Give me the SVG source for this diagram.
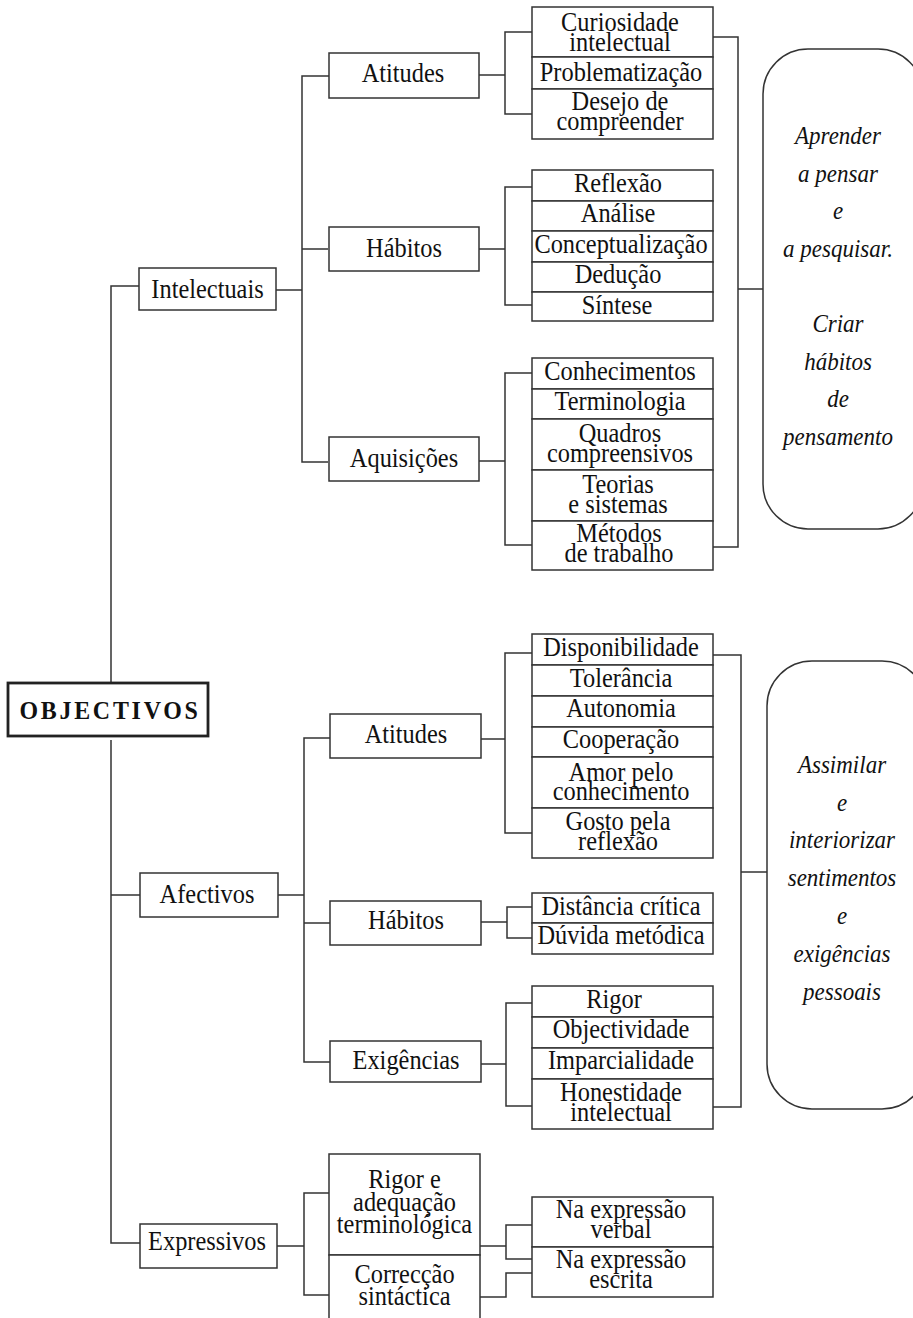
<svg xmlns="http://www.w3.org/2000/svg" width="913" height="1318" viewBox="0 0 913 1318">
<style>
.b{fill:#fff;stroke:#333;stroke-width:1.5}
.c{fill:none;stroke:#333;stroke-width:1.5}
.t{font-family:"Liberation Serif","Times New Roman",serif;font-size:26.5px;fill:#111;text-anchor:middle}
.i{font-style:italic;font-size:25px}
.m{font-weight:bold;font-size:26px;letter-spacing:3px}
</style>
<rect width="913" height="1318" fill="#fff"/>
<g id="connectors" class="c">
<path d="M139,286H111V683M111,740V1243H140M111,895H140"/>
<path d="M276,290H302M329,76H302V462H328M302,249H328"/>
<path d="M479,75H505M532,32H505V114H532"/>
<path d="M479,249H505M532,187H505V305H532"/>
<path d="M479,461H505M532,373H505V545H532"/>
<path d="M713,37H738V547H713M738,289H763"/>
<path d="M278,895H304M330,738H304V1062H330M304,923H330"/>
<path d="M481,739H505M532,653H505V833H532"/>
<path d="M481,922H507M532,907H507V938H532"/>
<path d="M481,1064H506M532,1003H506V1106H532"/>
<path d="M713,655H741V1107H713M741,872H767"/>
<path d="M277,1246H304M329,1193H304V1295H329"/>
<path d="M480,1246H506M532,1225H506V1259H532M480,1297H506V1273H532"/>
</g>
<g id="objectivos"><rect x="8" y="683" width="200" height="53" fill="#fff" stroke="#222" stroke-width="2.8"/><text class="t m" transform="translate(110,719) scale(.92,1)">OBJECTIVOS</text></g>
<g id="intelectuais"><rect class="b" x="139" y="268" width="137" height="42"/><text class="t" transform="translate(207.5,298) scale(.92,1)">Intelectuais</text></g>
<g id="afectivos"><rect class="b" x="140" y="873" width="138" height="44"/><text class="t" transform="translate(207,903) scale(.92,1)">Afectivos</text></g>
<g id="expressivos"><rect class="b" x="140" y="1224" width="137" height="44"/><text class="t" transform="translate(207,1250) scale(.92,1)">Expressivos</text></g>
<g id="int-atitudes"><rect class="b" x="329" y="53" width="150" height="45"/><text class="t" transform="translate(403,82) scale(.92,1)">Atitudes</text></g>
<g id="int-habitos"><rect class="b" x="329" y="227" width="150" height="44"/><text class="t" transform="translate(404,257) scale(.92,1)">Hábitos</text></g>
<g id="int-aquisicoes"><rect class="b" x="329" y="437" width="150" height="44"/><text class="t" transform="translate(404,467) scale(.92,1)">Aquisições</text></g>
<g id="af-atitudes"><rect class="b" x="330" y="714" width="151" height="44"/><text class="t" transform="translate(406,743) scale(.92,1)">Atitudes</text></g>
<g id="af-habitos"><rect class="b" x="330" y="901" width="151" height="44"/><text class="t" transform="translate(406,929) scale(.92,1)">Hábitos</text></g>
<g id="af-exigencias"><rect class="b" x="330" y="1041" width="151" height="41"/><text class="t" transform="translate(406,1069) scale(.92,1)">Exigências</text></g>
<g id="exp-rigor"><rect class="b" x="329" y="1154" width="151" height="101"/><text class="t" transform="translate(404.5,1188) scale(.92,1)"><tspan x="0" y="0">Rigor e</tspan><tspan x="0" y="23">adequação</tspan><tspan x="0" y="45">terminológica</tspan></text></g>
<g id="exp-correccao"><rect class="b" x="329" y="1255" width="151" height="80"/><text class="t" transform="translate(404.5,1283) scale(.92,1)"><tspan x="0" y="0">Correcção</tspan><tspan x="0" y="22">sintáctica</tspan></text></g>
<g id="int-atitudes-list">
<rect class="b" x="532" y="7" width="181" height="50"/><text class="t" transform="translate(620,31) scale(.92,1)"><tspan x="0" y="0">Curiosidade</tspan><tspan x="0" y="20">intelectual</tspan></text>
<rect class="b" x="532" y="57" width="181" height="32"/><text class="t" transform="translate(621,81) scale(.92,1)">Problematização</text>
<rect class="b" x="532" y="89" width="181" height="50"/><text class="t" transform="translate(620,110) scale(.92,1)"><tspan x="0" y="0">Desejo de</tspan><tspan x="0" y="20">compreender</tspan></text>
</g>
<g id="int-habitos-list">
<rect class="b" x="532" y="170" width="181" height="31"/><text class="t" transform="translate(618,192) scale(.92,1)">Reflexão</text>
<rect class="b" x="532" y="201" width="181" height="30"/><text class="t" transform="translate(618,222) scale(.92,1)">Análise</text>
<rect class="b" x="532" y="231" width="181" height="31"/><text class="t" transform="translate(621,253) scale(.92,1)">Conceptualização</text>
<rect class="b" x="532" y="262" width="181" height="30"/><text class="t" transform="translate(618,283) scale(.92,1)">Dedução</text>
<rect class="b" x="532" y="292" width="181" height="29"/><text class="t" transform="translate(617,314) scale(.92,1)">Síntese</text>
</g>
<g id="int-aquisicoes-list">
<rect class="b" x="532" y="358" width="181" height="31"/><text class="t" transform="translate(620,380) scale(.92,1)">Conhecimentos</text>
<rect class="b" x="532" y="389" width="181" height="30"/><text class="t" transform="translate(620,410) scale(.92,1)">Terminologia</text>
<rect class="b" x="532" y="419" width="181" height="51"/><text class="t" transform="translate(620,442) scale(.92,1)"><tspan x="0" y="0">Quadros</tspan><tspan x="0" y="20">compreensivos</tspan></text>
<rect class="b" x="532" y="470" width="181" height="51"/><text class="t" transform="translate(618,493) scale(.92,1)"><tspan x="0" y="0">Teorias</tspan><tspan x="0" y="20">e sistemas</tspan></text>
<rect class="b" x="532" y="521" width="181" height="49"/><text class="t" transform="translate(619,542) scale(.92,1)"><tspan x="0" y="0">Métodos</tspan><tspan x="0" y="20">de trabalho</tspan></text>
</g>
<g id="af-atitudes-list">
<rect class="b" x="532" y="634" width="181" height="31"/><text class="t" transform="translate(621,656) scale(.92,1)">Disponibilidade</text>
<rect class="b" x="532" y="665" width="181" height="31"/><text class="t" transform="translate(621,687) scale(.92,1)">Tolerância</text>
<rect class="b" x="532" y="696" width="181" height="31"/><text class="t" transform="translate(621,717) scale(.92,1)">Autonomia</text>
<rect class="b" x="532" y="727" width="181" height="30"/><text class="t" transform="translate(621,748) scale(.92,1)">Cooperação</text>
<rect class="b" x="532" y="757" width="181" height="51"/><text class="t" transform="translate(621,781) scale(.92,1)"><tspan x="0" y="0">Amor pelo</tspan><tspan x="0" y="19">conhecimento</tspan></text>
<rect class="b" x="532" y="808" width="181" height="50"/><text class="t" transform="translate(618,830) scale(.92,1)"><tspan x="0" y="0">Gosto pela</tspan><tspan x="0" y="20">reflexão</tspan></text>
</g>
<g id="af-habitos-list">
<rect class="b" x="532" y="893" width="181" height="30"/><text class="t" transform="translate(621,915) scale(.92,1)">Distância crítica</text>
<rect class="b" x="532" y="923" width="181" height="31"/><text class="t" transform="translate(621,944) scale(.92,1)">Dúvida metódica</text>
</g>
<g id="af-exigencias-list">
<rect class="b" x="532" y="986" width="181" height="31"/><text class="t" transform="translate(614,1008) scale(.92,1)">Rigor</text>
<rect class="b" x="532" y="1017" width="181" height="31"/><text class="t" transform="translate(621,1038) scale(.92,1)">Objectividade</text>
<rect class="b" x="532" y="1048" width="181" height="31"/><text class="t" transform="translate(621,1069) scale(.92,1)">Imparcialidade</text>
<rect class="b" x="532" y="1079" width="181" height="50"/><text class="t" transform="translate(621,1101) scale(.92,1)"><tspan x="0" y="0">Honestidade</tspan><tspan x="0" y="20">intelectual</tspan></text>
</g>
<g id="exp-list">
<rect class="b" x="532" y="1197" width="181" height="50"/><text class="t" transform="translate(621,1218) scale(.92,1)"><tspan x="0" y="0">Na expressão</tspan><tspan x="0" y="20">verbal</tspan></text>
<rect class="b" x="532" y="1247" width="181" height="50"/><text class="t" transform="translate(621,1268) scale(.92,1)"><tspan x="0" y="0">Na expressão</tspan><tspan x="0" y="20">escrita</tspan></text>
</g>
<g id="goal-1"><rect class="b" x="763" y="49" width="160" height="480" rx="45"/>
<text class="t i" transform="translate(838,144) scale(.92,1)"><tspan x="0" y="0">Aprender</tspan><tspan x="0" y="38">a pensar</tspan><tspan x="0" y="75">e</tspan><tspan x="0" y="113">a pesquisar.</tspan><tspan x="0" y="188">Criar</tspan><tspan x="0" y="226">hábitos</tspan><tspan x="0" y="263">de</tspan><tspan x="0" y="301">pensamento</tspan></text></g>
<g id="goal-2"><rect class="b" x="767" y="661" width="160" height="448" rx="45"/>
<text class="t i" transform="translate(842,773) scale(.92,1)"><tspan x="0" y="0">Assimilar</tspan><tspan x="0" y="38">e</tspan><tspan x="0" y="75">interiorizar</tspan><tspan x="0" y="113">sentimentos</tspan><tspan x="0" y="151">e</tspan><tspan x="0" y="189">exigências</tspan><tspan x="0" y="227">pessoais</tspan></text></g>
</svg>
